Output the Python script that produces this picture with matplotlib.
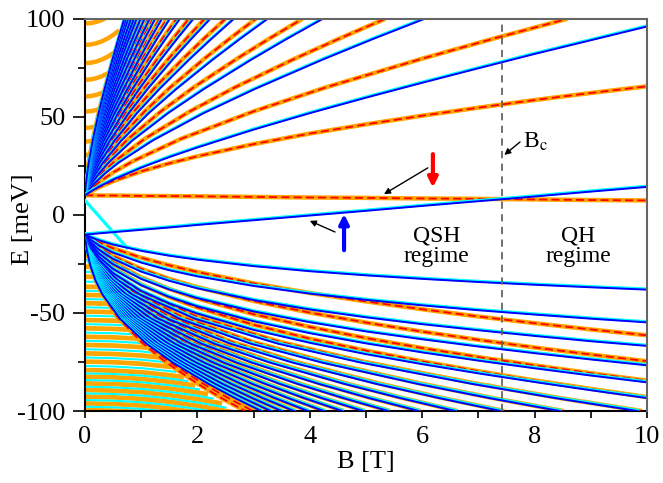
import numpy as np
import matplotlib
matplotlib.use("Agg")
import matplotlib.pyplot as plt
import matplotlib.patheffects as pe
from matplotlib.ticker import MultipleLocator

plt.rcParams["font.family"] = ["Liberation Serif", "DejaVu Serif"]
plt.rcParams["mathtext.fontset"] = "stix"
plt.rcParams["axes.unicode_minus"] = False

# ─── Landau levels, B in T, E in meV ─────────────────────────
B_GRID = [0, 0.1, 0.25, 0.5, 1, 1.5, 2, 3, 4, 5, 6, 7, 8, 9, 10]

# the two n = 0 levels that cross at B_c
ZERO_UP = [-10.0, -9.8, -9.4, -8.8, -7.6, -6.4, -5.1, -2.7, -0.3, 2.1, 4.6, 7.0, 9.4, 11.9, 14.3]
ZERO_DOWN = [10.0, 10.0, 9.9, 9.9, 9.7, 9.6, 9.5, 9.2, 8.9, 8.7, 8.4, 8.2, 7.9, 7.6, 7.4]

# n = 1 conduction levels
UP_BLUE_1 = [10.0, 11.9, 14.4, 18.0, 24.1, 29.5, 34.4, 43.5, 51.9, 59.8, 67.4, 74.8, 82.1, 89.1, 96.1]
UP_ORANGE_1 = [10.0, 11.8, 14.1, 17.2, 22.2, 26.3, 29.9, 36.1, 41.5, 46.2, 50.6, 54.7, 58.6, 62.2, 65.6]

# valence levels that stay inside the window up to 10 T
LOW_BLUE_1 = [-10.0, -11.3, -12.9, -15.1, -18.3, -20.8, -22.8, -26.1, -28.7, -30.8, -32.6, -34.2, -35.6, -36.9, -38.1]
LOW_BLUE_2 = [-10.0, -12.6, -15.5, -19.2, -24.3, -28.2, -31.3, -36.2, -40.1, -43.3, -46.1, -48.6, -50.8, -52.9, -54.8]
LOW_BLUE_3 = [-10.0, -13.8, -17.7, -22.4, -28.9, -33.6, -37.4, -43.4, -48.2, -52.2, -55.7, -58.8, -61.7, -64.4, -66.8]
LOW_BLUE_4 = [-10.0, -14.8, -19.6, -25.1, -32.6, -38.0, -42.4, -49.2, -54.7, -59.4, -63.4, -67.1, -70.5, -73.7, -76.7]
LOW_BLUE_5 = [-10.0, -15.8, -21.3, -27.5, -35.8, -41.8, -46.6, -54.2, -60.3, -65.5, -70.1, -74.3, -78.2, -81.9, -85.4]
LOW_BLUE_6 = [-10.0, -16.7, -22.8, -29.6, -38.7, -45.1, -50.3, -58.6, -65.2, -71.0, -76.1, -80.8, -85.2, -89.4, -93.4]
LOW_ORANGE_1 = [-10.0, -11.7, -13.9, -17.0, -21.8, -25.7, -29.1, -34.9, -39.8, -44.1, -48.1, -51.8, -55.2, -58.4, -61.4]
LOW_ORANGE_2 = [-10.0, -13.0, -16.5, -20.9, -27.5, -32.6, -36.8, -43.9, -49.8, -54.9, -59.5, -63.7, -67.6, -71.2, -74.6]
LOW_ORANGE_3 = [-10.0, -14.2, -18.6, -24.0, -31.8, -37.7, -42.6, -50.6, -57.1, -62.8, -67.9, -72.5, -76.7, -80.7, -84.5]
LOW_ORANGE_4 = [-10.0, -15.2, -20.5, -26.7, -35.4, -41.9, -47.2, -56.0, -63.1, -69.2, -74.7, -79.7, -84.4, -88.7, -92.9]

# higher levels: field at which each one leaves the window (E = +100 / -100)
UP_BLUE_EXIT = [6.04, 4.23, 3.25, 2.65, 2.23, 1.93, 1.69, 1.51, 1.37, 1.25,
                1.15, 1.06, 0.99, 0.92, 0.87, 0.82, 0.77, 0.73, 0.70]
UP_ORANGE_EXIT = [8.58, 5.34, 3.87, 3.04, 2.50, 2.13, 1.85, 1.63, 1.46, 1.33,
                  1.21, 1.12, 1.04, 0.97, 0.90, 0.85, 0.80, 0.76, 0.72]
LOW_BLUE_EXIT = [9.83, 8.45, 7.40, 6.59, 5.94, 5.40, 4.95, 4.58, 4.25, 3.97,
                 3.72, 3.50, 3.31, 3.14]
LOW_ORANGE_EXIT = [9.91, 8.51, 7.46, 6.63, 5.97, 5.43, 4.98, 4.60, 4.27, 3.98,
                   3.74, 3.52, 3.32, 3.15, 2.99, 2.85]

# common level shape: fraction of the exit field vs fraction of the energy span
PROF_T = [0, 0.01, 0.03, 0.06, 0.1, 0.2, 0.35, 0.5, 0.7, 0.85, 1.0]
PROF_UP_BLUE = [0, 0.027, 0.071, 0.125, 0.186, 0.311, 0.466, 0.602, 0.769, 0.887, 1.0]
PROF_UP_ORANGE = [0, 0.029, 0.076, 0.132, 0.194, 0.321, 0.476, 0.612, 0.775, 0.890, 1.0]
PROF_LOW_BLUE = [0, 0.081, 0.172, 0.259, 0.340, 0.478, 0.619, 0.726, 0.846, 0.926, 1.0]
PROF_LOW_ORANGE = [0, 0.072, 0.157, 0.242, 0.323, 0.463, 0.608, 0.720, 0.843, 0.925, 1.0]

# numerical branch running from the band edge into the first valence level
CYAN_B = [0, 0.75]
CYAN_E = [7.5, -16.8]

# truncated high-index levels close to B = 0
ARC_UP_E0 = [97.6, 86.7, 77.4, 68.9, 60.4, 52.7, 44.4, 37.4, 30.6, 24.0, 17.9]
ARC_UP_END = [0.62, 0.58, 0.49, 0.41, 0.34, 0.27, 0.2, 0.145, 0.1, 0.06, 0.03]
ARC_UP_B = [0, 0.1, 0.2, 0.3, 0.4, 0.5, 0.6, 0.7]
ARC_UP_RISE = [0, 0.2, 0.8, 1.8, 3.2, 5.0, 7.2, 9.8]

ARC_LOW_ORANGE_E0 = [-19.6, -26.4, -31.5, -36.6, -40.8, -45.0, -49.3, -53.6, -57.8, -62.1,
                     -66.3, -70.6, -74.8, -79.1, -82.5, -85.9, -89.3, -92.7, -96.1, -99.5]
ARC_LOW_ORANGE_END = [0.055, 0.11, 0.17, 0.25, 0.33, 0.42, 0.52, 0.64, 0.78, 0.93,
                      1.1, 1.3, 1.5, 1.72, 1.92, 2.15, 2.4, 2.6, 2.75, 2.85]
ARC_LOW_CYAN_E0 = [-23.0, -29.0, -34.0, -38.7, -42.9, -47.1, -51.4, -55.7, -60.0, -64.2,
                   -68.5, -72.7, -77.0, -80.8, -84.2, -87.6, -91.0, -94.4, -97.8]
ARC_LOW_CYAN_END = [0.08, 0.14, 0.21, 0.29, 0.37, 0.47, 0.58, 0.71, 0.85, 1.01,
                    1.2, 1.4, 1.61, 1.82, 2.03, 2.27, 2.5, 2.68, 2.8]
ARC_LOW_B = [0, 0.5, 1, 1.5, 2, 2.5, 3]
ARC_LOW_DROP = [0, 0.3, 1.1, 2.6, 4.6, 7.2, 10.3]

B_CRIT = 7.42


# ─── Drawing helpers ─────────────────────────────────────────

CYAN_FX = [pe.Stroke(offset=(0, 0.6), linewidth=2.0, foreground="cyan"), pe.Normal()]


def draw_down(ax, b, e):
    ax.plot(b, e, color="orange", lw=3.2, zorder=2, solid_capstyle="butt")
    ax.plot(b, e, color="red", lw=1.3, dashes=(4.5, 2.3), zorder=3)


def draw_up(ax, b, e):
    ax.plot(b, e, color="blue", lw=1.4, zorder=4, path_effects=CYAN_FX)


def scaled(prof, b_exit, e0, e_exit):
    return [b_exit * t for t in PROF_T], [e0 + (e_exit - e0) * f for f in prof]


def arc(e0, b_end, prof_b, prof_d, sign):
    bs = [b for b in prof_b if b < b_end] + [b_end]
    return bs, [e0 + sign * d for d in np.interp(bs, prof_b, prof_d)]


fig = plt.figure(figsize=(6.63, 4.83), dpi=100)
ax = fig.add_axes([0.128, 0.149, 0.848, 0.812])

# truncated levels in the background
for e0, b_end in zip(ARC_UP_E0, ARC_UP_END):
    ax.plot(*arc(e0, b_end, ARC_UP_B, ARC_UP_RISE, +1), color="orange", lw=3.2, zorder=1)
for e0, b_end in zip(ARC_LOW_ORANGE_E0, ARC_LOW_ORANGE_END):
    ax.plot(*arc(e0, b_end, ARC_LOW_B, ARC_LOW_DROP, -1), color="orange", lw=3.4, zorder=1)
for e0, b_end in zip(ARC_LOW_CYAN_E0, ARC_LOW_CYAN_END):
    ax.plot(*arc(e0, b_end, ARC_LOW_B, ARC_LOW_DROP, -1), color="cyan", lw=1.5, zorder=1)

# spin-down levels (orange / red dashed)
for bx in UP_ORANGE_EXIT:
    draw_down(ax, *scaled(PROF_UP_ORANGE, bx, 10, 100))
for bx in LOW_ORANGE_EXIT:
    draw_down(ax, *scaled(PROF_LOW_ORANGE, bx, -10, -100))
for series in (LOW_ORANGE_4, LOW_ORANGE_3, LOW_ORANGE_2, LOW_ORANGE_1, UP_ORANGE_1, ZERO_DOWN):
    draw_down(ax, B_GRID, series)

# spin-up levels (blue / cyan)
ax.plot(CYAN_B, CYAN_E, color="cyan", lw=2.3, zorder=4)
for bx in UP_BLUE_EXIT:
    draw_up(ax, *scaled(PROF_UP_BLUE, bx, 10, 100))
for bx in LOW_BLUE_EXIT:
    draw_up(ax, *scaled(PROF_LOW_BLUE, bx, -10, -100))
for series in (LOW_BLUE_6, LOW_BLUE_5, LOW_BLUE_4, LOW_BLUE_3, LOW_BLUE_2, LOW_BLUE_1,
               UP_BLUE_1, ZERO_UP):
    draw_up(ax, B_GRID, series)

# critical field
ax.axvline(B_CRIT, color="#666666", lw=1.3, dashes=(4, 3), zorder=5)

# annotations
ax.annotate("", xy=(6.19, 14.0), xytext=(6.19, 31.0), zorder=7,
            arrowprops=dict(arrowstyle="-|>", color="red", lw=3, mutation_scale=14,
                            shrinkA=0, shrinkB=0))
ax.annotate("", xy=(4.61, 0.5), xytext=(4.61, -18.0), zorder=7,
            arrowprops=dict(arrowstyle="-|>", color="blue", lw=3, mutation_scale=14,
                            shrinkA=0, shrinkB=0))
thin = dict(arrowstyle="-|>", color="black", lw=1.0, mutation_scale=9,
            shrinkA=0, shrinkB=0)
ax.annotate("", xy=(5.32, 10.6), xytext=(6.1, 24.0), arrowprops=thin, zorder=7)
ax.annotate("", xy=(4.0, -3.0), xytext=(4.45, -8.7), arrowprops=thin, zorder=7)
ax.annotate("", xy=(7.46, 30.6), xytext=(7.74, 37.2), arrowprops=thin, zorder=7)
ax.text(7.8, 37.5, r"B$_\mathrm{c}$", fontsize=17, va="center", ha="left", zorder=7)

ax.text(6.26, -16.0, "QSH\nregime", fontsize=17, ha="center", va="center",
        linespacing=1.0, zorder=7)
ax.text(8.77, -16.0, "QH\nregime", fontsize=17, ha="center", va="center",
        linespacing=1.0, zorder=7)

ax.set_xlim(0, 10)
ax.set_ylim(-100, 100)
ax.xaxis.set_major_locator(MultipleLocator(2))
ax.xaxis.set_minor_locator(MultipleLocator(1))
ax.yaxis.set_major_locator(MultipleLocator(50))
ax.yaxis.set_minor_locator(MultipleLocator(25))
ax.tick_params(axis="both", which="both", direction="out", labelsize=19, width=1.2)
ax.tick_params(axis="y", which="major", length=9, pad=5)
ax.tick_params(axis="y", which="minor", length=5)
ax.tick_params(axis="x", which="both", length=5, pad=6)
ax.set_xlabel("B [T]", fontsize=19, labelpad=2)
ax.set_ylabel("E [meV]", fontsize=19)
ax.yaxis.set_label_coords(-0.09, 0.49)

for side in ("left", "bottom"):
    ax.spines[side].set_linewidth(1.5)
for side in ("top", "right"):
    ax.spines[side].set_linewidth(1.5)
    ax.spines[side].set_color("#666666")
    ax.spines[side].set_zorder(6)

fig.savefig("out.png", dpi=100)
